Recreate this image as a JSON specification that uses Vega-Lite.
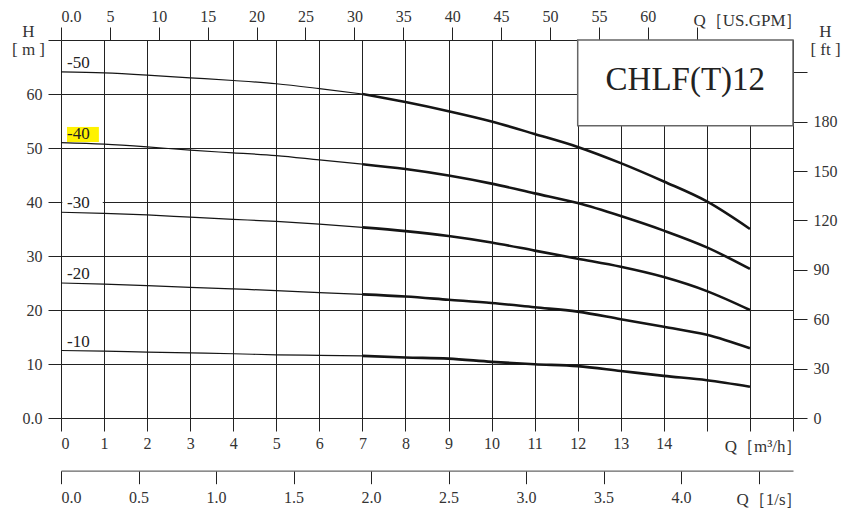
{
  "$schema": "https://vega.github.io/schema/vega-lite/v6.json",
  "width": 732,
  "height": 378,
  "autosize": {"type": "none"},
  "padding": {"left": 61, "top": 40, "right": 50, "bottom": 96},
  "background": "white",
  "config": {
    "view": {"stroke": null},
    "font": "Liberation Serif",
    "axis": {
      "labelFont": "Liberation Serif",
      "labelFontSize": 16,
      "labelColor": "#333333",
      "tickColor": "#222222",
      "tickWidth": 1,
      "gridColor": "#222222",
      "gridWidth": 1,
      "gridOpacity": 1,
      "titleFont": "Liberation Serif",
      "titleFontSize": 17,
      "titleFontWeight": "normal",
      "titleColor": "#333333"
    }
  },
  "datasets": {
    "curves": [
      {"stage": "-50", "part": "low", "q": 0, "h": 64.1},
      {"stage": "-50", "part": "low", "q": 1, "h": 63.9},
      {"stage": "-50", "part": "low", "q": 2, "h": 63.5},
      {"stage": "-50", "part": "low", "q": 3, "h": 63.0},
      {"stage": "-50", "part": "low", "q": 4, "h": 62.5},
      {"stage": "-50", "part": "low", "q": 5, "h": 61.9},
      {"stage": "-50", "part": "low", "q": 6, "h": 61.0},
      {"stage": "-50", "part": "low", "q": 7, "h": 60.0},
      {"stage": "-50", "part": "high", "q": 7, "h": 60.0},
      {"stage": "-50", "part": "high", "q": 8, "h": 58.5},
      {"stage": "-50", "part": "high", "q": 9, "h": 56.8},
      {"stage": "-50", "part": "high", "q": 10, "h": 54.9},
      {"stage": "-50", "part": "high", "q": 11, "h": 52.6},
      {"stage": "-50", "part": "high", "q": 12, "h": 50.2},
      {"stage": "-50", "part": "high", "q": 13, "h": 47.2},
      {"stage": "-50", "part": "high", "q": 14, "h": 43.8},
      {"stage": "-50", "part": "high", "q": 15, "h": 40.1},
      {"stage": "-50", "part": "high", "q": 16, "h": 35.0},
      {"stage": "-40", "part": "low", "q": 0, "h": 51.0},
      {"stage": "-40", "part": "low", "q": 1, "h": 50.7},
      {"stage": "-40", "part": "low", "q": 2, "h": 50.2},
      {"stage": "-40", "part": "low", "q": 3, "h": 49.6},
      {"stage": "-40", "part": "low", "q": 4, "h": 49.1},
      {"stage": "-40", "part": "low", "q": 5, "h": 48.6},
      {"stage": "-40", "part": "low", "q": 6, "h": 47.8},
      {"stage": "-40", "part": "low", "q": 7, "h": 47.0},
      {"stage": "-40", "part": "high", "q": 7, "h": 47.0},
      {"stage": "-40", "part": "high", "q": 8, "h": 46.1},
      {"stage": "-40", "part": "high", "q": 9, "h": 44.9},
      {"stage": "-40", "part": "high", "q": 10, "h": 43.4},
      {"stage": "-40", "part": "high", "q": 11, "h": 41.6},
      {"stage": "-40", "part": "high", "q": 12, "h": 39.8},
      {"stage": "-40", "part": "high", "q": 13, "h": 37.4},
      {"stage": "-40", "part": "high", "q": 14, "h": 34.7},
      {"stage": "-40", "part": "high", "q": 15, "h": 31.6},
      {"stage": "-40", "part": "high", "q": 16, "h": 27.6},
      {"stage": "-30", "part": "low", "q": 0, "h": 38.1},
      {"stage": "-30", "part": "low", "q": 1, "h": 37.9},
      {"stage": "-30", "part": "low", "q": 2, "h": 37.6},
      {"stage": "-30", "part": "low", "q": 3, "h": 37.2},
      {"stage": "-30", "part": "low", "q": 4, "h": 36.8},
      {"stage": "-30", "part": "low", "q": 5, "h": 36.4},
      {"stage": "-30", "part": "low", "q": 6, "h": 35.9},
      {"stage": "-30", "part": "low", "q": 7, "h": 35.3},
      {"stage": "-30", "part": "high", "q": 7, "h": 35.3},
      {"stage": "-30", "part": "high", "q": 8, "h": 34.6},
      {"stage": "-30", "part": "high", "q": 9, "h": 33.7},
      {"stage": "-30", "part": "high", "q": 10, "h": 32.5},
      {"stage": "-30", "part": "high", "q": 11, "h": 31.0},
      {"stage": "-30", "part": "high", "q": 12, "h": 29.5},
      {"stage": "-30", "part": "high", "q": 13, "h": 28.0},
      {"stage": "-30", "part": "high", "q": 14, "h": 26.1},
      {"stage": "-30", "part": "high", "q": 15, "h": 23.5},
      {"stage": "-30", "part": "high", "q": 16, "h": 20.0},
      {"stage": "-20", "part": "low", "q": 0, "h": 25.0},
      {"stage": "-20", "part": "low", "q": 1, "h": 24.8},
      {"stage": "-20", "part": "low", "q": 2, "h": 24.5},
      {"stage": "-20", "part": "low", "q": 3, "h": 24.2},
      {"stage": "-20", "part": "low", "q": 4, "h": 23.9},
      {"stage": "-20", "part": "low", "q": 5, "h": 23.6},
      {"stage": "-20", "part": "low", "q": 6, "h": 23.2},
      {"stage": "-20", "part": "low", "q": 7, "h": 22.9},
      {"stage": "-20", "part": "high", "q": 7, "h": 22.9},
      {"stage": "-20", "part": "high", "q": 8, "h": 22.5},
      {"stage": "-20", "part": "high", "q": 9, "h": 21.9},
      {"stage": "-20", "part": "high", "q": 10, "h": 21.3},
      {"stage": "-20", "part": "high", "q": 11, "h": 20.5},
      {"stage": "-20", "part": "high", "q": 12, "h": 19.7},
      {"stage": "-20", "part": "high", "q": 13, "h": 18.3},
      {"stage": "-20", "part": "high", "q": 14, "h": 16.9},
      {"stage": "-20", "part": "high", "q": 15, "h": 15.4},
      {"stage": "-20", "part": "high", "q": 16, "h": 12.9},
      {"stage": "-10", "part": "low", "q": 0, "h": 12.5},
      {"stage": "-10", "part": "low", "q": 1, "h": 12.4},
      {"stage": "-10", "part": "low", "q": 2, "h": 12.2},
      {"stage": "-10", "part": "low", "q": 3, "h": 12.05},
      {"stage": "-10", "part": "low", "q": 4, "h": 11.9},
      {"stage": "-10", "part": "low", "q": 5, "h": 11.7},
      {"stage": "-10", "part": "low", "q": 6, "h": 11.6},
      {"stage": "-10", "part": "low", "q": 7, "h": 11.5},
      {"stage": "-10", "part": "high", "q": 7, "h": 11.5},
      {"stage": "-10", "part": "high", "q": 8, "h": 11.2},
      {"stage": "-10", "part": "high", "q": 9, "h": 11.0},
      {"stage": "-10", "part": "high", "q": 10, "h": 10.4},
      {"stage": "-10", "part": "high", "q": 11, "h": 9.95},
      {"stage": "-10", "part": "high", "q": 12, "h": 9.6},
      {"stage": "-10", "part": "high", "q": 13, "h": 8.7},
      {"stage": "-10", "part": "high", "q": 14, "h": 7.8},
      {"stage": "-10", "part": "high", "q": 15, "h": 7.0},
      {"stage": "-10", "part": "high", "q": 16, "h": 5.8}
    ],
    "labelBg": [
      {"stage": "-40", "hl": "yes", "q": 0.14, "q2": 0.88, "h": 51.1, "h2": 53.9},
      {"stage": "-30", "hl": "no", "q": 0.03, "q2": 0.97, "h": 38.9, "h2": 41.0}
    ],
    "labels": [
      {"stage": "-50", "q": 0.14, "h": 65.8},
      {"stage": "-40", "q": 0.14, "h": 52.55},
      {"stage": "-30", "q": 0.14, "h": 39.85},
      {"stage": "-20", "q": 0.14, "h": 26.6},
      {"stage": "-10", "q": 0.14, "h": 14.1}
    ],
    "box": [{"name": "CHLF(T)12", "q": 12, "q2": 17, "h": 54.1, "h2": 70, "tq": 14.5, "th": 62.6}]
  },
  "layer": [
    {
      "encoding": {
        "x": {
          "field": "q", "type": "quantitative",
          "scale": {"domain": [0, 17], "nice": false, "zero": false},
          "axis": {
            "orient": "bottom", "values": [0,1,2,3,4,5,6,7,8,9,10,11,12,13,14,15,16,17],
            "labelExpr": "datum.value > 14 ? '' : datum.label",
            "tickSize": 13, "labelPadding": 4, "grid": true, "domain": false,
            "title": "Q［m³/h］", "titleX": 741, "titleY": 33, "titleAlign": "right",
            "titleBaseline": "alphabetic", "titleAngle": 0
          }
        },
        "y": {
          "field": "h", "type": "quantitative",
          "scale": {"domain": [0, 70], "nice": false, "zero": false},
          "axis": {
            "orient": "left", "values": [0,10,20,30,40,50,60,70],
            "labelExpr": "datum.value == 0 ? '0.0' : datum.value == 70 ? '' : datum.label",
            "tickSize": 13, "labelPadding": 6, "grid": true, "domain": false,
            "title": ["H", "[ m ]"], "titleAngle": 0, "titleX": -33, "titleY": -4,
            "titleAlign": "center", "titleBaseline": "alphabetic", "titleLineHeight": 18
          }
        }
      },
      "layer": [
        {
          "data": {"name": "labelBg"},
          "mark": {"type": "rect"},
          "encoding": {
            "x2": {"field": "q2"},
            "y2": {"field": "h2"},
            "fill": {"field": "hl", "type": "nominal", "scale": {"domain": ["yes", "no"], "range": ["#fff200", "#ffffff"]}, "legend": null}
          }
        },
        {
          "data": {"name": "curves"},
          "mark": {"type": "line", "interpolate": "monotone", "color": "#151515"},
          "encoding": {
            "detail": {"field": "stage", "type": "nominal"},
            "strokeWidth": {"field": "part", "type": "nominal", "scale": {"domain": ["low", "high"], "range": [1.2, 2.6]}, "legend": null},
            "order": {"field": "q", "type": "quantitative"}
          }
        },
        {
          "data": {"name": "labels"},
          "mark": {"type": "text", "align": "left", "baseline": "middle", "fontSize": 17, "font": "Liberation Serif", "color": "#222222"},
          "encoding": {"text": {"field": "stage"}}
        },
        {
          "data": {"name": "box"},
          "mark": {"type": "rect", "fill": "white", "stroke": "#666666", "strokeWidth": 1.5},
          "encoding": {"x2": {"field": "q2"}, "y2": {"field": "h2"}}
        },
        {
          "data": {"name": "box"},
          "mark": {"type": "text", "align": "center", "baseline": "middle", "fontSize": 33, "font": "Liberation Serif", "color": "#222222"},
          "encoding": {
            "x": {"field": "tq", "type": "quantitative"},
            "y": {"field": "th", "type": "quantitative"},
            "text": {"field": "name"}
          }
        }
      ]
    },
    {
      "data": {"values": [{"gpm": 0}]},
      "mark": {"type": "point", "opacity": 0},
      "encoding": {
        "x": {
          "field": "gpm", "type": "quantitative",
          "scale": {"domain": [0, 74.85], "nice": false, "zero": false},
          "axis": {
            "orient": "top", "values": [0,5,10,15,20,25,30,35,40,45,50,55,60,65],
            "labelExpr": "datum.value == 0 ? '0.0' : datum.value == 65 ? '' : datum.label",
            "tickSize": 13, "labelPadding": 3, "grid": false, "domain": false,
            "title": "Q［US.GPM］", "titleX": 741, "titleY": -15, "titleAlign": "right",
            "titleBaseline": "alphabetic", "titleAngle": 0
          }
        }
      }
    },
    {
      "data": {"values": [{"ft": 0}]},
      "mark": {"type": "point", "opacity": 0},
      "encoding": {
        "y": {
          "field": "ft", "type": "quantitative",
          "scale": {"domain": [0, 229.66], "nice": false, "zero": false},
          "axis": {
            "orient": "right", "values": [0,30,60,90,120,150,180,210],
            "labelExpr": "datum.value == 210 ? '' : datum.label",
            "tickSize": 14, "labelPadding": 6, "grid": false, "domain": false,
            "title": ["H", "[ ft ]"], "titleAngle": 0, "titleX": 32, "titleY": -4,
            "titleAlign": "center", "titleBaseline": "alphabetic", "titleLineHeight": 18
          }
        }
      }
    },
    {
      "data": {"values": [{"ls": 0}]},
      "mark": {"type": "point", "opacity": 0},
      "encoding": {
        "x": {
          "field": "ls", "type": "quantitative",
          "scale": {"domain": [0, 4.7222], "nice": false, "zero": false},
          "axis": {
            "orient": "bottom", "offset": 52.7, "values": [0,0.5,1,1.5,2,2.5,3,3.5,4,4.5],
            "format": ".1f",
            "labelExpr": "datum.value > 4.2 ? '' : datum.label",
            "tickSize": 13, "labelPadding": 6, "grid": false, "domain": true,
            "domainColor": "#666666", "domainWidth": 1.2,
            "title": "Q［1/s］", "titleX": 741, "titleY": 34, "titleAlign": "right",
            "titleBaseline": "alphabetic", "titleAngle": 0
          }
        }
      }
    }
  ],
  "resolve": {"scale": {"x": "independent", "y": "independent"}}
}
